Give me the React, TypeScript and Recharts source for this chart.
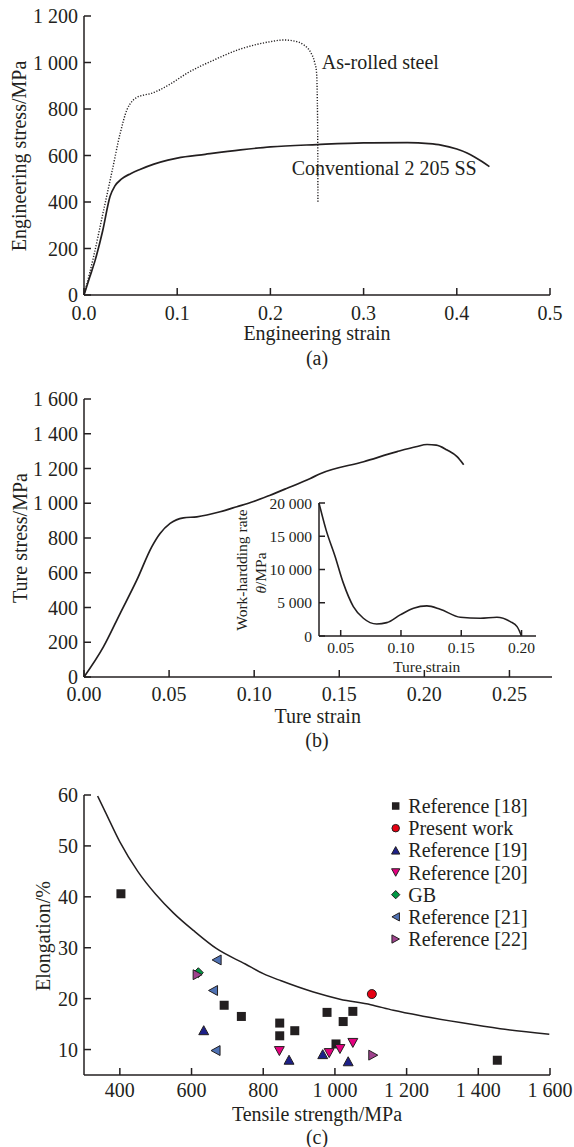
import React from 'react'
import { ComposedChart, LineChart, Line, Scatter, XAxis, YAxis, Legend } from 'recharts'

const INK = '#231f20'
const SERIF = "'Liberation Serif', 'Times New Roman', 'DejaVu Serif', serif"

type Pt = [number, number]
const rows = (pts: Pt[]) => pts.map(([x, y]) => ({ x, y }))

// (a) engineering stress-strain
const conventional2205: Pt[] = [
  [0, 0], [0.006, 75], [0.012, 150], [0.02, 275], [0.028, 425], [0.033, 468], [0.04, 498],
  [0.05, 522], [0.06, 540], [0.075, 563], [0.09, 580], [0.1, 589], [0.13, 605], [0.168, 624],
  [0.2, 637], [0.25, 647], [0.3, 654], [0.347, 655], [0.37, 651], [0.383, 645], [0.4, 628],
  [0.411, 611], [0.419, 594], [0.427, 574], [0.435, 552],
]
const asRolled: Pt[] = [
  [0, 0], [0.01, 160], [0.02, 345], [0.03, 530], [0.0388, 695], [0.046, 796], [0.052, 835],
  [0.0568, 850], [0.064, 860], [0.0712, 866], [0.08, 880], [0.0928, 908], [0.111, 955],
  [0.1396, 1011], [0.165, 1054], [0.1857, 1078], [0.2007, 1090], [0.214, 1097], [0.226, 1092],
  [0.236, 1075], [0.243, 1045], [0.2475, 1000], [0.2495, 958], [0.2503, 850], [0.2508, 650],
  [0.251, 400],
]
const engStrainTicks = [0, 0.1, 0.2, 0.3, 0.4, 0.5]
const engStressTicks = [0, 200, 400, 600, 800, 1000, 1200]

// (b) true stress-strain + work hardening inset
const trueCurve: Pt[] = [
  [0, 0], [0.0114, 173], [0.0212, 365], [0.031, 557], [0.0398, 749], [0.0447, 826],
  [0.0506, 884], [0.0584, 916], [0.0663, 922], [0.08, 951], [0.0898, 980], [0.0996, 1010],
  [0.109, 1045], [0.119, 1085], [0.133, 1143], [0.1388, 1170], [0.1643, 1239], [0.184, 1297],
  [0.195, 1325], [0.2016, 1338], [0.207, 1335], [0.2134, 1306], [0.2192, 1268], [0.2231, 1222],
]
const trueStrainTicks = [0, 0.05, 0.1, 0.15, 0.2, 0.25]
const trueStressTicks = [0, 200, 400, 600, 800, 1000, 1200, 1400, 1600]

const hardeningRate: Pt[] = [
  [0.032, 20000], [0.0378, 16000], [0.0453, 12000], [0.0522, 7950], [0.0605, 4430],
  [0.0688, 2670], [0.0799, 1810], [0.0882, 2010], [0.0993, 3170], [0.1104, 4180],
  [0.1215, 4530], [0.1325, 4030], [0.1492, 2820], [0.1658, 2670], [0.1796, 2820],
  [0.1907, 2160], [0.1963, 1410], [0.2, 0],
]
const insetStrainTicks = [0.05, 0.1, 0.15, 0.2]
const insetRateTicks = [0, 5000, 10000, 15000, 20000]

// (c) elongation vs tensile strength
const ref18: Pt[] = [
  [403, 40.6], [691, 18.7], [739, 16.5], [846, 15.2], [846, 12.7], [888, 13.7],
  [978, 17.3], [1003, 11.1], [1023, 15.5], [1050, 17.5], [1453, 7.9],
]
const presentWork: Pt[] = [[1103, 20.9]]
const ref19: Pt[] = [[634, 13.8], [872, 8.0], [966, 9.1], [1037, 7.7]]
const ref20: Pt[] = [[845, 9.7], [984, 9.3], [1014, 10.1], [1050, 11.3]]
const gbLimit: Pt[] = [[619, 25.1]]
const ref21: Pt[] = [[670, 27.6], [660, 21.6], [667, 9.8]]
const ref22: Pt[] = [[617, 24.7], [1107, 8.9]]
const boundary: Pt[] = [
  [338, 59.8], [360, 56.6], [400, 50.8], [450, 45.0], [500, 40.5], [550, 36.8], [605, 33.4],
  [670, 29.8], [750, 26.8], [800, 24.9], [850, 23.5], [940, 21.3], [1014, 19.9], [1100, 18.8],
  [1163, 17.7], [1250, 16.5], [1350, 15.3], [1461, 14.1], [1598, 13.0],
]
const strengthTicks = [400, 600, 800, 1000, 1200, 1400, 1600]
const elongationTicks = [10, 20, 30, 40, 50, 60]

const groups = [
  { name: 'Reference [18]', pts: ref18, kind: 'square', fill: INK },
  { name: 'Present work', pts: presentWork, kind: 'circle', fill: '#e60012' },
  { name: 'Reference [19]', pts: ref19, kind: 'up', fill: '#1d2088' },
  { name: 'Reference [20]', pts: ref20, kind: 'down', fill: '#e4007f' },
  { name: 'GB', pts: gbLimit, kind: 'diamond', fill: '#009944' },
  { name: 'Reference [21]', pts: ref21, kind: 'left', fill: '#4f72b4' },
  { name: 'Reference [22]', pts: ref22, kind: 'right', fill: '#a0428e' },
]

const thousands = (v: number) => String(Math.round(v)).replace(/\B(?=(\d{3})+(?!\d))/g, ' ')

const axisLine = { stroke: INK, strokeWidth: 1.5 }
const tickFont = { fill: INK, fontSize: 20, fontFamily: SERIF }
const insetFont = { fill: INK, fontSize: 15.5, fontFamily: SERIF }

function Marker({ kind, x, y, s, fill }: { kind: string; x: number; y: number; s: number; fill: string }) {
  const h = s / 2
  const k = h * 1.1
  const line = { fill, stroke: INK, strokeWidth: 1 }
  switch (kind) {
    case 'square':
      return <rect x={x - h} y={y - h} width={s} height={s} fill={fill} />
    case 'circle':
      return <circle cx={x} cy={y} r={h} {...line} />
    case 'diamond':
      return <polygon points={`${x},${y - k} ${x + k},${y} ${x},${y + k} ${x - k},${y}`} {...line} />
    case 'up':
      return <polygon points={`${x},${y - h} ${x + k},${y + h} ${x - k},${y + h}`} {...line} />
    case 'down':
      return <polygon points={`${x},${y + h} ${x + k},${y - h} ${x - k},${y - h}`} {...line} />
    case 'left':
      return <polygon points={`${x - h},${y} ${x + h},${y - k} ${x + h},${y + k}`} {...line} />
    default:
      return <polygon points={`${x + h},${y} ${x - h},${y - k} ${x - h},${y + k}`} {...line} />
  }
}

function Caption({ x, y, size = 20, rotate = false, left = false, children }: any) {
  const t = left ? 'translate(0,-50%)' : 'translate(-50%,-50%)'
  return (
    <div style={{
      position: 'absolute', left: x, top: y, fontSize: size, lineHeight: 1, whiteSpace: 'nowrap',
      fontFamily: SERIF, transform: rotate ? `${t} rotate(-90deg)` : t,
    }}>{children}</div>
  )
}

function LegendBox() {
  return (
    <svg width={190} height={160}>
      {groups.map((g, i) => (
        <g key={g.name}>
          <Marker kind={g.kind} x={10.7} y={11 + i * 22.17} s={7.5} fill={g.fill} />
          <text x={23.3} y={11 + i * 22.17} dy="0.35em" fill={INK} fontSize={20} style={{ fontFamily: SERIF }}>{g.name}</text>
        </g>
      ))}
    </svg>
  )
}

function PanelA() {
  return (
    <div style={{ position: 'absolute', left: 0, top: 0 }}>
      <LineChart width={574} height={370} margin={{ top: 16, right: 24, bottom: 0, left: 0 }}
        style={{ fontFamily: SERIF }}>
        <XAxis type="number" dataKey="x" domain={[0, 0.5]} ticks={engStrainTicks} interval={0}
          tickFormatter={(v) => v.toFixed(1)} height={75} tickSize={-7} tickMargin={17.5}
          axisLine={axisLine} tickLine={axisLine} tick={tickFont} />
        <YAxis type="number" domain={[0, 1200]} ticks={engStressTicks} interval={0}
          tickFormatter={thousands} width={84} tickSize={-7} tickMargin={13}
          axisLine={axisLine} tickLine={axisLine} tick={tickFont} />
        <Line data={rows(asRolled)} dataKey="y" type="monotone" dot={false} stroke={INK}
          strokeWidth={1.4} strokeDasharray="1.2 1.6" isAnimationActive={false} />
        <Line data={rows(conventional2205)} dataKey="y" type="monotone" dot={false} stroke={INK}
          strokeWidth={1.7} isAnimationActive={false} />
      </LineChart>
    </div>
  )
}

function PanelB() {
  return (
    <>
      <div style={{ position: 'absolute', left: 0, top: 380 }}>
        <LineChart width={574} height={380} margin={{ top: 19, right: 22, bottom: 0, left: 0 }}
          style={{ fontFamily: SERIF }}>
          <XAxis type="number" dataKey="x" domain={[0, 0.275]} ticks={trueStrainTicks} interval={0}
            tickFormatter={(v) => v.toFixed(2)} height={83} tickSize={-7} tickMargin={16.4}
            axisLine={axisLine} tickLine={axisLine} tick={tickFont} />
          <YAxis type="number" domain={[0, 1600]} ticks={trueStressTicks} interval={0}
            tickFormatter={thousands} width={84} tickSize={-7} tickMargin={13}
            axisLine={axisLine} tickLine={axisLine} tick={tickFont} />
          <Line data={rows(trueCurve)} dataKey="y" type="monotone" dot={false} stroke={INK}
            strokeWidth={1.7} isAnimationActive={false} />
        </LineChart>
      </div>
      <div style={{ position: 'absolute', left: 200, top: 490 }}>
        <LineChart width={340} height={186} margin={{ top: 13, right: 4, bottom: 0, left: 0 }}
          style={{ fontFamily: SERIF }}>
          <XAxis type="number" dataKey="x" domain={[0.032, 0.212]} ticks={insetStrainTicks} interval={0}
            tickFormatter={(v) => v.toFixed(2)} height={40} tickSize={-6} tickMargin={12.4}
            axisLine={axisLine} tickLine={axisLine} tick={insetFont} />
          <YAxis type="number" domain={[0, 20000]} ticks={insetRateTicks} interval={0}
            tickFormatter={thousands} width={119} tickSize={-6} tickMargin={13}
            axisLine={axisLine} tickLine={axisLine} tick={insetFont} />
          <Line data={rows(hardeningRate)} dataKey="y" type="monotone" dot={false} stroke={INK}
            strokeWidth={1.6} isAnimationActive={false} />
        </LineChart>
      </div>
    </>
  )
}

function PanelC() {
  return (
    <div style={{ position: 'absolute', left: 0, top: 760 }}>
      <ComposedChart width={574} height={387} margin={{ top: 35, right: 24, bottom: 0, left: 0 }}
        style={{ fontFamily: SERIF }}>
        <XAxis type="number" dataKey="x" domain={[300, 1600]} ticks={strengthTicks} interval={0}
          tickFormatter={thousands} height={72} tickSize={-7} tickMargin={14.9}
          axisLine={axisLine} tickLine={axisLine} tick={tickFont} />
        <YAxis type="number" dataKey="y" domain={[5, 60]} ticks={elongationTicks} interval={0}
          width={84} tickSize={-7} tickMargin={13}
          axisLine={axisLine} tickLine={axisLine} tick={tickFont} />
        <Line data={rows(boundary)} dataKey="y" type="monotone" dot={false} stroke={INK}
          strokeWidth={1.5} isAnimationActive={false} legendType="none" />
        {groups.map((g) => (
          <Scatter key={g.name} name={g.name} data={rows(g.pts)} isAnimationActive={false}
            shape={(p: any) => <Marker kind={g.kind} x={p.cx} y={p.cy} s={9} fill={g.fill} />} />
        ))}
        <Legend layout="vertical" align="center" verticalAlign="middle"
          wrapperStyle={{ left: 385, top: 35, width: 190 }} content={() => <LegendBox />} />
      </ComposedChart>
    </div>
  )
}

export default function App() {
  return (
    <div style={{
      position: 'absolute', left: 0, top: 0, width: 574, height: 1147,
      background: '#fff', fontFamily: SERIF, color: INK,
    }}>
      <PanelA />
      <PanelB />
      <PanelC />

      <Caption x={19} y={155.5} rotate>Engineering stress/MPa</Caption>
      <Caption x={317} y={333}>Engineering strain</Caption>
      <Caption x={317} y={358}>(a)</Caption>
      <Caption x={321.7} y={61.7} left>As-rolled steel</Caption>
      <Caption x={291.7} y={168} left>Conventional 2 205 SS</Caption>

      <Caption x={20} y={538} rotate>Ture stress/MPa</Caption>
      <Caption x={317.7} y={716}>Ture strain</Caption>
      <Caption x={317} y={740}>(b)</Caption>
      <Caption x={241.7} y={570} size={15.5} rotate>Work-hardding rate</Caption>
      <Caption x={260.7} y={572.5} size={15.5} rotate><span style={{ fontStyle: 'italic' }}>θ</span>/MPa</Caption>
      <Caption x={426.7} y={666.7} size={15.5}>Ture strain</Caption>

      <Caption x={43} y={936} rotate>Elongation/%</Caption>
      <Caption x={317} y={1114}>Tensile strength/MPa</Caption>
      <Caption x={317} y={1137}>(c)</Caption>
    </div>
  )
}
